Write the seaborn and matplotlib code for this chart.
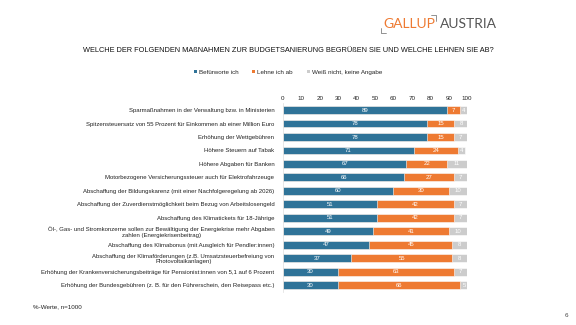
import matplotlib
matplotlib.use("Agg")
import matplotlib.pyplot as plt
import seaborn as sns
import pandas as pd
import numpy as np

categories = [
    "Sparmaßnahmen in der Verwaltung bzw. in Ministerien",
    "Spitzensteuersatz von 55 Prozent für Einkommen ab einer Million Euro",
    "Erhöhung der Wettgebühren",
    "Höhere Steuern auf Tabak",
    "Höhere Abgaben für Banken",
    "Motorbezogene Versicherungssteuer auch für Elektrofahrzeuge",
    "Abschaffung der Bildungskarenz (mit einer Nachfolgeregelung ab 2026)",
    "Abschaffung der Zuverdienstmöglichkeit beim Bezug von Arbeitslosengeld",
    "Abschaffung des Klimatickets für 18-Jährige",
    "Öl-, Gas- und Stromkonzerne sollen zur Bewältigung der Energiekrise mehr Abgaben\nzahlen (Energiekrisenbeitrag)",
    "Abschaffung des Klimabonus (mit Ausgleich für Pendler:innen)",
    "Abschaffung der Klimaförderungen (z.B. Umsatzsteuerbefreiung von\nPhotovoltaikanlagen)",
    "Erhöhung der Krankenversicherungsbeiträge für Pensionist:innen von 5,1 auf 6 Prozent",
    "Erhöhung der Bundesgebühren (z. B. für den Führerschein, den Reisepass etc.)",
]
befuerworte = [89, 78, 78, 71, 67, 66, 60, 51, 51, 49, 47, 37, 30, 30]
lehne_ab = [7, 15, 15, 24, 22, 27, 30, 42, 42, 41, 45, 55, 63, 66]
weiss_nicht = [4, 8, 7, 4, 11, 7, 10, 7, 7, 10, 8, 8, 7, 5]
series_names = ["Befürworte ich", "Lehne ich ab", "Weiß nicht, keine Angabe"]
ticks = [0, 10, 20, 30, 40, 50, 60, 70, 80, 90, 100]

BLUE = "#2F7398"
ORANGE = "#EE7A32"
GRAY = "#CCCCCC"

sns.set_theme(style="white")
plt.rcParams["font.family"] = ["Liberation Sans", "DejaVu Sans"]

df = pd.DataFrame({
    "cat": categories,
    "b": befuerworte,
    "l": lehne_ab,
    "w": weiss_nicht,
})
df["bl"] = df["b"] + df["l"]
df["blw"] = df["bl"] + df["w"]

fig = plt.figure(figsize=(5.76, 3.25), dpi=100)
ax = fig.add_axes([0.491, 0.102, 0.32, 0.58])

bw = 0.58
sns.barplot(data=df, y="cat", x="blw", color=GRAY, width=bw, ax=ax, orient="h",
            saturation=1, edgecolor="white", linewidth=0.4)
sns.barplot(data=df, y="cat", x="bl", color=ORANGE, width=bw, ax=ax, orient="h",
            saturation=1, edgecolor="white", linewidth=0.4)
sns.barplot(data=df, y="cat", x="b", color=BLUE, width=bw, ax=ax, orient="h",
            saturation=1, edgecolor="white", linewidth=0.4)

for i, row in df.iterrows():
    ax.text(row["b"] / 2, i, str(row["b"]), ha="center", va="center",
            color="white", fontsize=4.3)
    ax.text(row["b"] + row["l"] / 2, i, str(row["l"]), ha="center", va="center",
            color="white", fontsize=4.3)
    ax.text(row["bl"] + row["w"] / 2, i, str(row["w"]), ha="center", va="center",
            color="white", fontsize=4.3)

ax.set_xlim(0, 100)
ax.set_ylim(len(categories) - 0.5, -0.5)
ax.set_xticks(ticks)
ax.xaxis.tick_top()
ax.tick_params(axis="x", labelsize=4.5, length=0, pad=2, colors="#222222")
ax.tick_params(axis="y", labelsize=4.3, length=0, pad=6, colors="#222222")
for lab in ax.get_yticklabels():
    lab.set_multialignment("center")
ax.set_xlabel("")
ax.set_ylabel("")
for s in ["right", "bottom", "top"]:
    ax.spines[s].set_visible(False)
ax.spines["left"].set_color("#DDDDDD")
ax.spines["left"].set_linewidth(0.5)

# Legend
from matplotlib.patches import Patch
handles = [Patch(facecolor=c, edgecolor="none") for c in (BLUE, ORANGE, GRAY)]
fig.legend(handles, series_names, loc="center", bbox_to_anchor=(0.5, 0.778),
           ncol=3, frameon=False, fontsize=4.5, handlelength=0.5, handleheight=0.5,
           handletextpad=0.3, columnspacing=2.2)

# Title
fig.text(0.5, 0.846, "WELCHE DER FOLGENDEN MAßNAHMEN ZUR BUDGETSANIERUNG BEGRÜßEN SIE UND WELCHE LEHNEN SIE AB?",
         ha="center", va="center", fontsize=5.3, color="#111111")

# Logo
fig.text(0.666, 0.925, "GALLUP", ha="left", va="center", fontsize=10,
         color="#EE7A32", family=["Lato", "DejaVu Sans"])
fig.text(0.764, 0.925, "AUSTRIA", ha="left", va="center", fontsize=10,
         color="#555555", family=["Lato", "DejaVu Sans"])
fig.lines.append(plt.Line2D([0.662, 0.662, 0.670], [0.915, 0.898, 0.898],
                            transform=fig.transFigure, color="#666666", lw=0.5))
fig.lines.append(plt.Line2D([0.749, 0.757, 0.757], [0.953, 0.953, 0.936],
                            transform=fig.transFigure, color="#666666", lw=0.5))

# Footer
fig.text(0.057, 0.055, "%-Werte, n=1000", ha="left", va="center", fontsize=4.5, color="#222222")
fig.text(0.983, 0.028, "6", ha="center", va="center", fontsize=4.5, color="#444444")

fig.savefig("out.png", dpi=100, facecolor="white")
